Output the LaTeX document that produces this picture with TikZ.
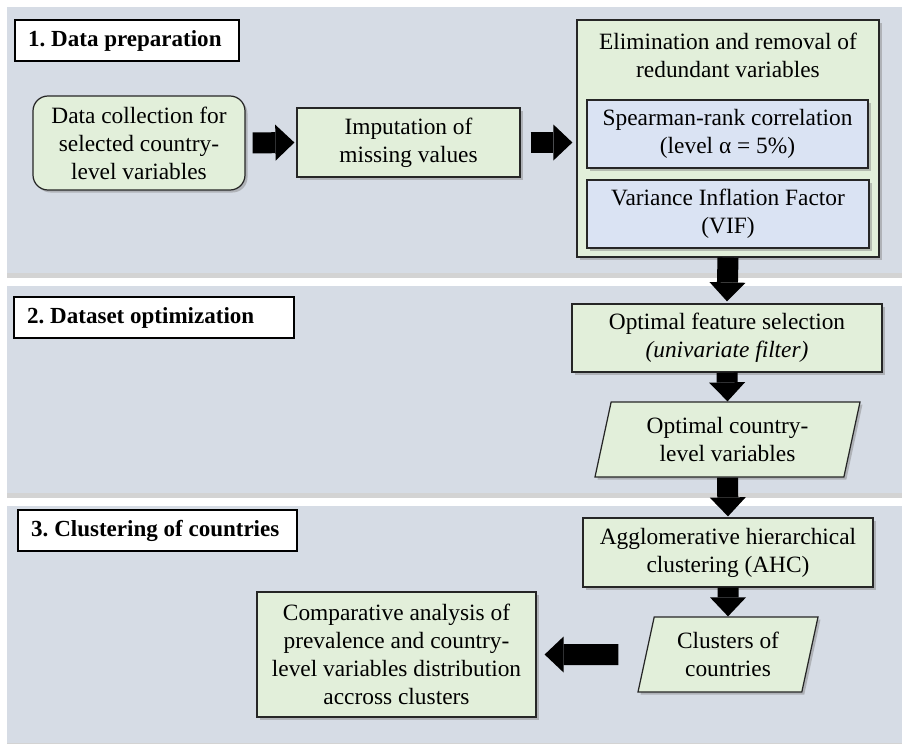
\documentclass[tikz,border=0pt]{standalone}
\usepackage{fontspec}
\setmainfont{Liberation Serif}
\usepackage{xcolor}
\usepackage{tikz}
\usetikzlibrary{arrows.meta}
\usetikzlibrary{shapes.geometric}
\usetikzlibrary{shadows}
\definecolor{panelcolor}{HTML}{D6DCE5}
\definecolor{boxgreen}{HTML}{E2EFDA}
\definecolor{boxblue}{HTML}{DAE3F3}
\definecolor{edgecolor}{HTML}{262626}
\frenchspacing

\begin{document}
\begin{tikzpicture}[
   font=\fontsize{13.3}{16}\selectfont,
   panel/.style={fill=panelcolor, drop shadow={shadow xshift=0cm, shadow yshift=-0.09cm, opacity=0.35}},
   header/.style={draw=black, line width=1.4pt, fill=white, anchor=north west, minimum height=0.82cm, inner xsep=0.26cm, font=\fontsize{13.1}{16}\selectfont\bfseries},
   greenbox/.style={draw=edgecolor, fill=boxgreen, line width=0.7pt, align=center, drop shadow={shadow xshift=0.05cm, shadow yshift=-0.05cm, opacity=0.45}},
   bluebox/.style={greenbox, fill=boxblue},
   dataslant/.style={greenbox, trapezium, trapezium left angle=74, trapezium right angle=106, trapezium stretches body},
   bigarrow/.style={line width=0.42cm, -{Triangle[width=0.72cm, length=0.38cm, line width=0pt]}}
]
\useasboundingbox (0,0) rectangle (18.04,-14.86);
\fill[panel] (0.14,-0.14) rectangle (18.04,-5.46);
\fill[panel] (0.14,-5.72) rectangle (18.04,-9.86);
\fill[panel] (0.14,-10.12) rectangle (18.04,-14.86);

\node[header] (head1) at (0.28,-0.38) {\makebox[3.96cm][l]{1. Data preparation}};
\node[header] (head2) at (0.26,-5.92) {\makebox[5.08cm][l]{2. Dataset optimization}};
\node[header] (head3) at (0.34,-10.18) {\makebox[5.06cm][l]{3. Clustering of countries}};

\node[greenbox, rounded corners=0.3cm, minimum width=4.24cm, minimum height=1.88cm] (dc) at (2.78,-2.86) {Data collection for\\selected country-\\level variables};
\node[greenbox, minimum width=4.46cm, minimum height=1.38cm] (imp) at (8.17,-2.85) {Imputation of\\missing values};
\node[greenbox, minimum width=6.04cm, minimum height=4.74cm] (elim) at (14.56,-2.77) {};
\node[align=center] (elimtitle) at (14.56,-1.1) {Elimination and removal of\\redundant variables};
\node[bluebox, minimum width=5.62cm, minimum height=1.36cm] (spear) at (14.55,-2.68) {Spearman-rank correlation\\(level α = 5\%)};
\node[bluebox, minimum width=5.64cm, minimum height=1.36cm] (vif) at (14.56,-4.28) {Variance Inflation Factor\\(VIF)};

\node[greenbox, minimum width=6.2cm, minimum height=1.36cm] (opt) at (14.54,-6.76) {Optimal feature selection\\\textit{(univariate filter)}};
\node[dataslant, minimum width=5.3cm, minimum height=1.5cm] (ocl) at (14.55,-8.79) {Optimal country-\\level variables};

\node[greenbox, minimum width=5.8cm, minimum height=1.38cm] (ahc) at (14.56,-11.05) {Agglomerative hierarchical\\clustering (AHC)};
\node[dataslant, minimum width=3.6cm, minimum height=1.5cm] (clu) at (14.56,-13.09) {Clusters of\\countries};
\node[greenbox, minimum width=5.58cm, minimum height=2.5cm] (comp) at (7.93,-13.09) {Comparative analysis of\\prevalence and country-\\level variables distribution\\accross clusters};

\draw[bigarrow, shorten <=0.14cm, shorten >=0.04cm] (dc.east) -- (imp.west);
\draw[bigarrow, shorten <=0.2cm, shorten >=0.08cm] (imp.east) -- (imp.east -| elim.west);
\draw[bigarrow, shorten >=0.04cm] (elim.south) -- (opt.north);
\draw[bigarrow] (opt.south) -- (ocl.north);
\draw[bigarrow, shorten >=0.02cm] (ocl.south) -- (ahc.north);
\draw[bigarrow] (ahc.south) -- (clu.north);
\draw[bigarrow, shorten <=0.54cm, shorten >=0.16cm] (clu.west) -- (comp.east);
\end{tikzpicture}
\end{document}
